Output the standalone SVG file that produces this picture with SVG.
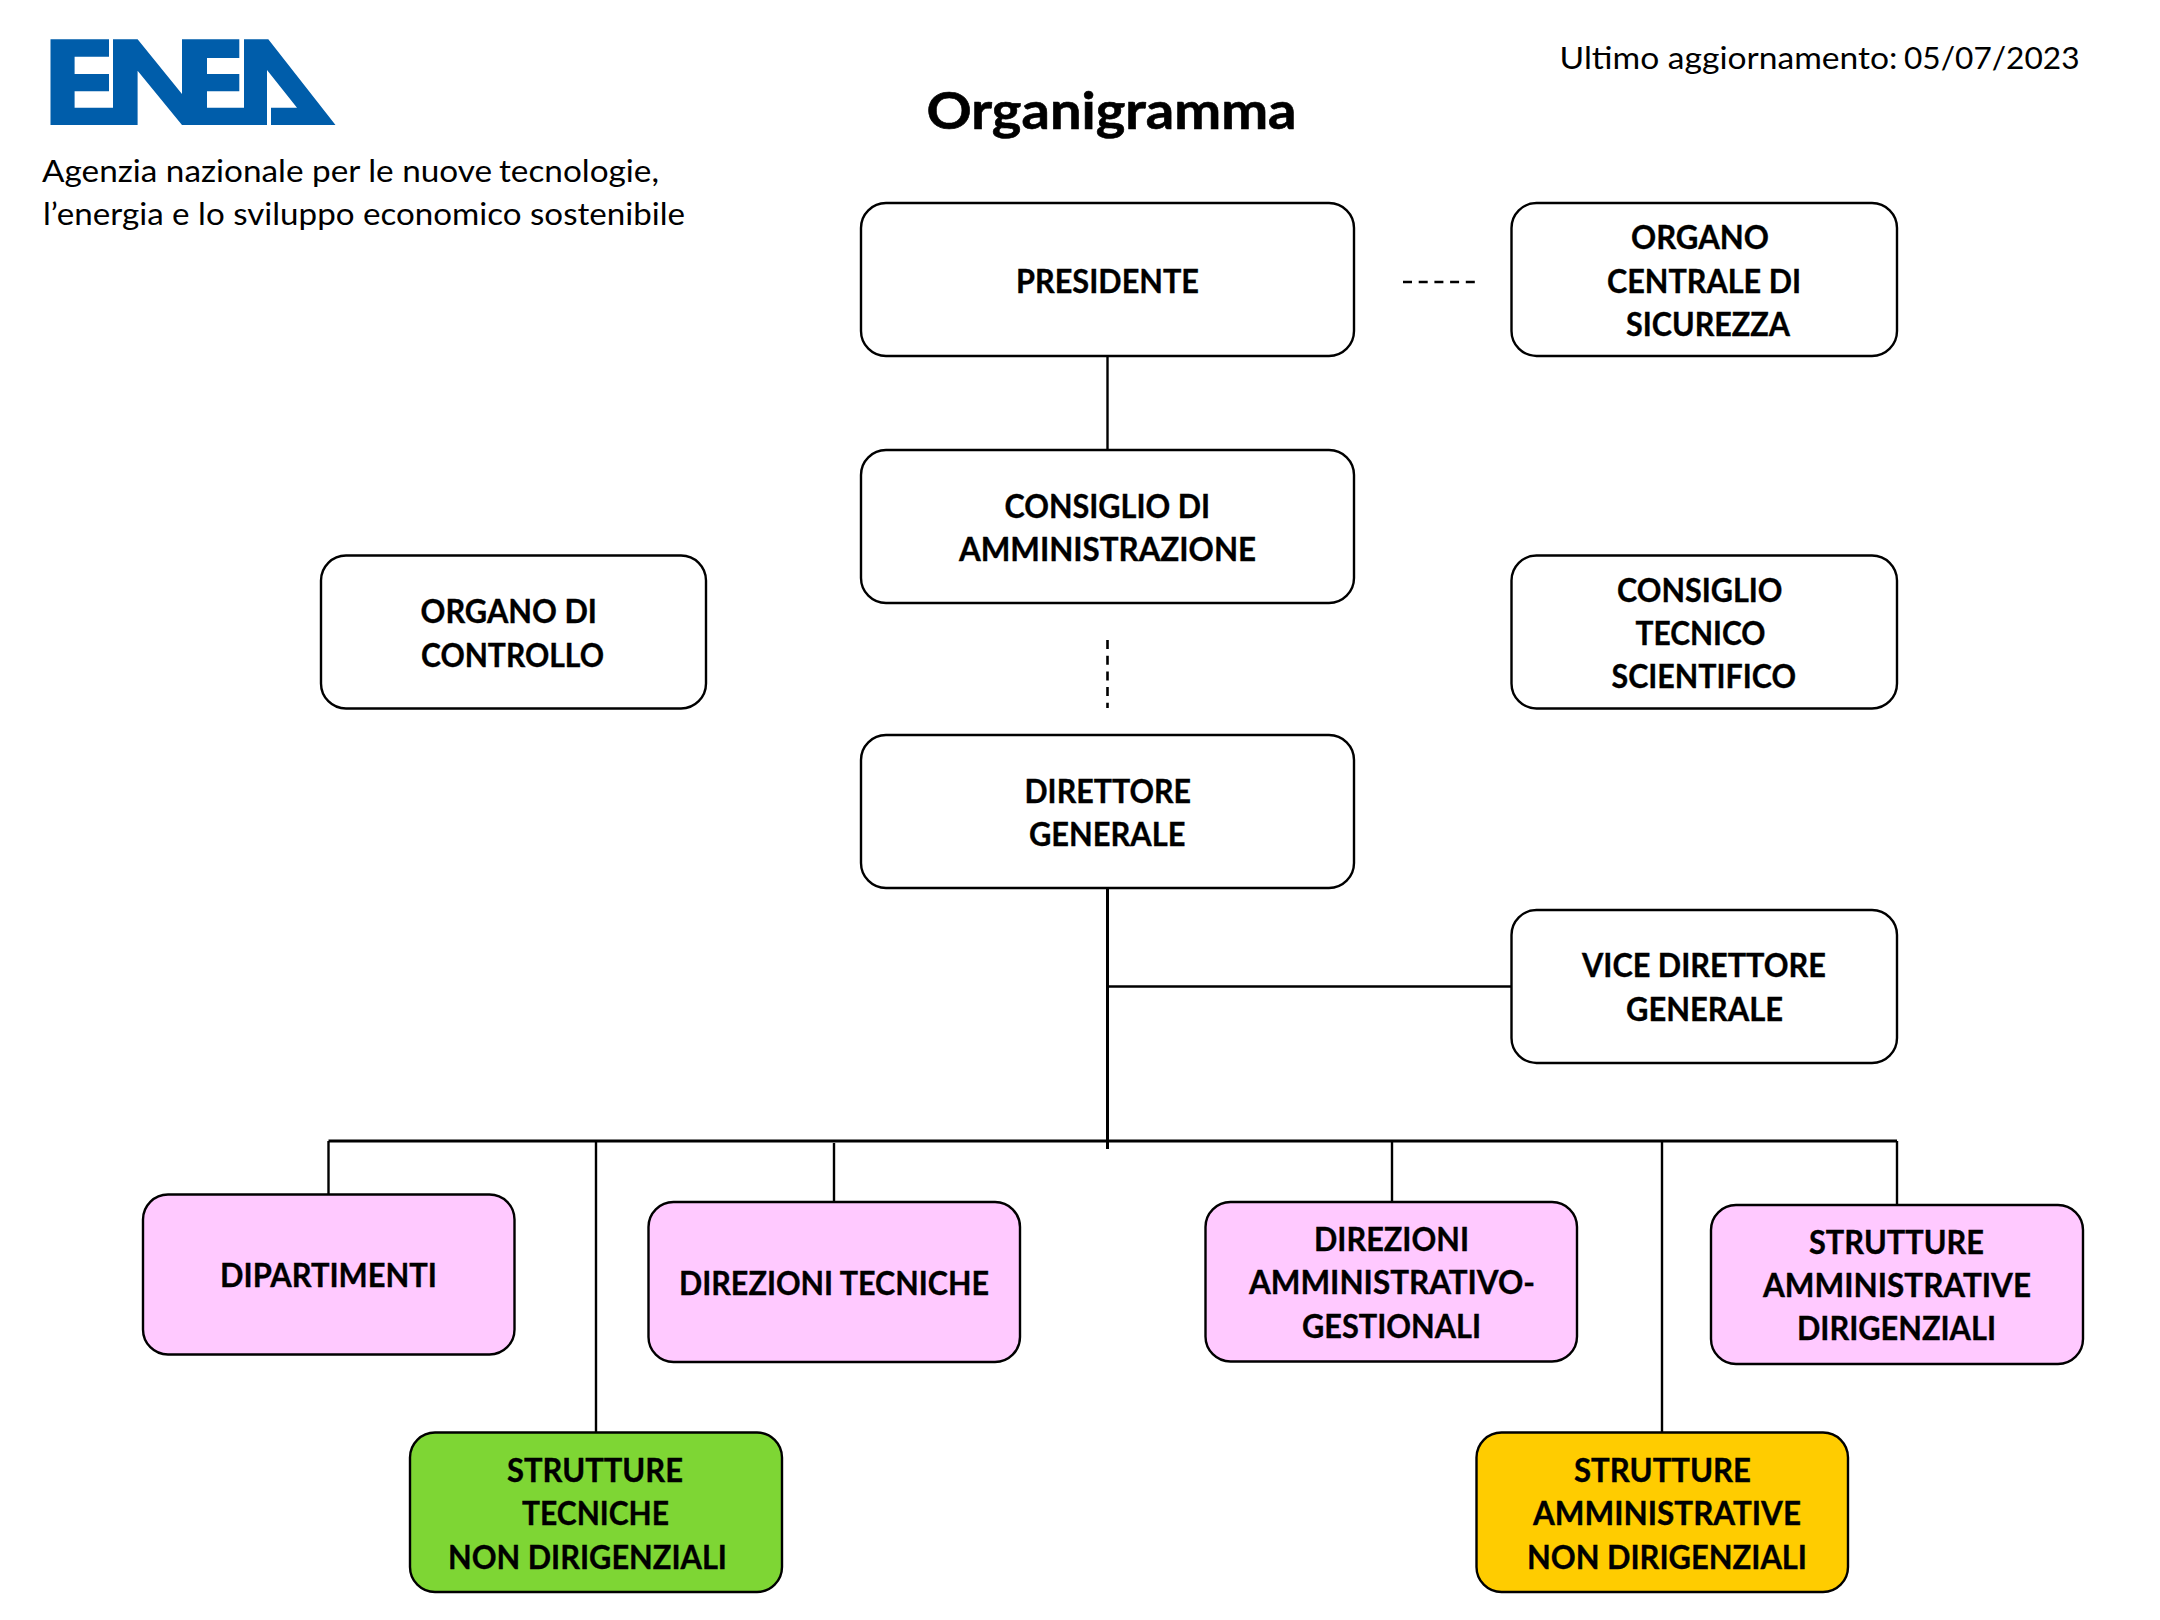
<svg xmlns="http://www.w3.org/2000/svg" width="2160" height="1620" viewBox="0 0 2160 1620">
<style>
text{font-family:Lato,"Open Sans","Liberation Sans",sans-serif;fill:#000}
.b{font-weight:700;font-size:32px;stroke:#000;stroke-width:.35}
.r{font-weight:400;font-size:31.5px}
.t{font-weight:700;font-size:52px;stroke:#000;stroke-width:.6}
.n{stroke:#000;stroke-width:2.4}
.w{fill:#fff}.p{fill:#FFC9FF}.g{fill:#7ED634}.y{fill:#FFCC00}
#connectors line{stroke:#000;stroke-width:2.4;fill:none}
#connectors line.k{stroke-width:3}
#connectors line.d{stroke-dasharray:9 6.7;stroke-width:2.6}
</style>
<rect width="2160" height="1620" fill="#fff"/>
<g id="logo"><polygon fill="#005DAA" points="50.500,39.300 109,39.300 109,56.700 74.600,56.700 74.600,74 109,74 109,91.300 74.600,91.300 74.600,107.700 113,107.700 113,39.300 137.600,39.300 182,94 182,39.300 239.300,39.300 239.300,58 207,58 207,74 239.300,74 239.300,91.300 207,91.300 207,107.700 244,107.700 244,39.300 268.300,39.300 335.500,125 271,125 271,107.700 297,107.700 267,70 267,125 182,125 137.600,70.700 137.600,125 50.500,125"/></g>
<g id="header">
<text class="r" x="42" y="181.500" textLength="450" lengthAdjust="spacingAndGlyphs">Agenzia nazionale per le nuove</text>
<text class="r" x="499" y="181.500" textLength="160" lengthAdjust="spacingAndGlyphs">tecnologie,</text>
<text class="r" x="43" y="224.500" textLength="642" lengthAdjust="spacingAndGlyphs">l’energia e lo sviluppo economico sostenibile</text>
<text class="t" x="926.500" y="129" textLength="370" lengthAdjust="spacingAndGlyphs">Organigramma</text>
<text class="r" x="1559.500" y="69" textLength="338" lengthAdjust="spacingAndGlyphs">Ultimo aggiornamento:</text>
<text class="r" x="1904" y="69" textLength="175.500" lengthAdjust="spacingAndGlyphs">05/07/2023</text>
</g>
<g id="connectors">
<line x1="1107.500" y1="356" x2="1107.500" y2="450"/>
<line class="d" x1="1107.500" y1="640" x2="1107.500" y2="708"/>
<line class="d" x1="1403" y1="282" x2="1477" y2="282"/>
<line class="k" x1="1107.500" y1="888" x2="1107.500" y2="1149"/>
<line x1="1107.500" y1="986.500" x2="1511" y2="986.500"/>
<line class="k" x1="328.500" y1="1141" x2="1897" y2="1141"/>
<line x1="328.500" y1="1141" x2="328.500" y2="1194"/>
<line x1="596" y1="1141" x2="596" y2="1432"/>
<line x1="834" y1="1143" x2="834" y2="1202"/>
<line x1="1392" y1="1141" x2="1392" y2="1202"/>
<line x1="1662" y1="1141" x2="1662" y2="1432"/>
<line x1="1897" y1="1141" x2="1897" y2="1205"/>
</g>
<g id="presidente"><rect class="n w" x="861" y="203" width="493" height="153" rx="25"/>
<text class="b" x="1016" y="293" textLength="183" lengthAdjust="spacingAndGlyphs">PRESIDENTE</text></g>
<g id="organo-centrale"><rect class="n w" x="1511.500" y="203" width="385.500" height="153" rx="25"/>
<text class="b" x="1631" y="249" textLength="138" lengthAdjust="spacingAndGlyphs">ORGANO</text>
<text class="b" x="1607" y="292.500" textLength="194" lengthAdjust="spacingAndGlyphs">CENTRALE DI</text>
<text class="b" x="1626" y="336" textLength="164" lengthAdjust="spacingAndGlyphs">SICUREZZA</text></g>
<g id="consiglio-amministrazione"><rect class="n w" x="861" y="450" width="493" height="153" rx="25"/>
<text class="b" x="1004.500" y="518" textLength="205.500" lengthAdjust="spacingAndGlyphs">CONSIGLIO DI</text>
<text class="b" x="959" y="561" textLength="297" lengthAdjust="spacingAndGlyphs">AMMINISTRAZIONE</text></g>
<g id="organo-controllo"><rect class="n w" x="321" y="555.500" width="385" height="153" rx="25"/>
<text class="b" x="420.500" y="623" textLength="176.500" lengthAdjust="spacingAndGlyphs">ORGANO DI</text>
<text class="b" x="421" y="666.500" textLength="183" lengthAdjust="spacingAndGlyphs">CONTROLLO</text></g>
<g id="consiglio-tecnico"><rect class="n w" x="1511.500" y="555.500" width="385.500" height="153" rx="25"/>
<text class="b" x="1617" y="601.500" textLength="165.500" lengthAdjust="spacingAndGlyphs">CONSIGLIO</text>
<text class="b" x="1635.500" y="644.500" textLength="130" lengthAdjust="spacingAndGlyphs">TECNICO</text>
<text class="b" x="1611.500" y="688" textLength="184.500" lengthAdjust="spacingAndGlyphs">SCIENTIFICO</text></g>
<g id="direttore"><rect class="n w" x="861" y="735" width="493" height="153" rx="25"/>
<text class="b" x="1024.500" y="803" textLength="166.500" lengthAdjust="spacingAndGlyphs">DIRETTORE</text>
<text class="b" x="1029" y="846" textLength="156.500" lengthAdjust="spacingAndGlyphs">GENERALE</text></g>
<g id="vice"><rect class="n w" x="1511.500" y="910" width="385.500" height="153" rx="25"/>
<text class="b" x="1582" y="977" textLength="244" lengthAdjust="spacingAndGlyphs">VICE DIRETTORE</text>
<text class="b" x="1626" y="1021" textLength="157" lengthAdjust="spacingAndGlyphs">GENERALE</text></g>
<g id="dipartimenti"><rect class="n p" x="143" y="1194.500" width="371.500" height="160" rx="25"/>
<text class="b" x="220" y="1287" textLength="217" lengthAdjust="spacingAndGlyphs">DIPARTIMENTI</text></g>
<g id="direzioni-tecniche"><rect class="n p" x="648.500" y="1202" width="371.500" height="160" rx="25"/>
<text class="b" x="679" y="1295" textLength="310" lengthAdjust="spacingAndGlyphs">DIREZIONI TECNICHE</text></g>
<g id="direzioni-amministrative"><rect class="n p" x="1205.500" y="1202" width="371.500" height="159.500" rx="25"/>
<text class="b" x="1314" y="1251" textLength="155" lengthAdjust="spacingAndGlyphs">DIREZIONI</text>
<text class="b" x="1249" y="1294" textLength="286" lengthAdjust="spacingAndGlyphs">AMMINISTRATIVO-</text>
<text class="b" x="1302" y="1338" textLength="179" lengthAdjust="spacingAndGlyphs">GESTIONALI</text></g>
<g id="strutture-dirigenziali"><rect class="n p" x="1711" y="1205" width="372" height="159" rx="25"/>
<text class="b" x="1809" y="1254" textLength="175" lengthAdjust="spacingAndGlyphs">STRUTTURE</text>
<text class="b" x="1763" y="1297" textLength="268" lengthAdjust="spacingAndGlyphs">AMMINISTRATIVE</text>
<text class="b" x="1797" y="1340" textLength="199" lengthAdjust="spacingAndGlyphs">DIRIGENZIALI</text></g>
<g id="strutture-tecniche"><rect class="n g" x="410" y="1432.500" width="372" height="159.500" rx="25"/>
<text class="b" x="507" y="1482" textLength="176" lengthAdjust="spacingAndGlyphs">STRUTTURE</text>
<text class="b" x="522" y="1525" textLength="147" lengthAdjust="spacingAndGlyphs">TECNICHE</text>
<text class="b" x="448" y="1569" textLength="279" lengthAdjust="spacingAndGlyphs">NON DIRIGENZIALI</text></g>
<g id="strutture-amministrative"><rect class="n y" x="1476.500" y="1432.500" width="371.500" height="159.500" rx="25"/>
<text class="b" x="1574" y="1482" textLength="177" lengthAdjust="spacingAndGlyphs">STRUTTURE</text>
<text class="b" x="1533" y="1525" textLength="268" lengthAdjust="spacingAndGlyphs">AMMINISTRATIVE</text>
<text class="b" x="1527" y="1569" textLength="280" lengthAdjust="spacingAndGlyphs">NON DIRIGENZIALI</text></g>
</svg>
